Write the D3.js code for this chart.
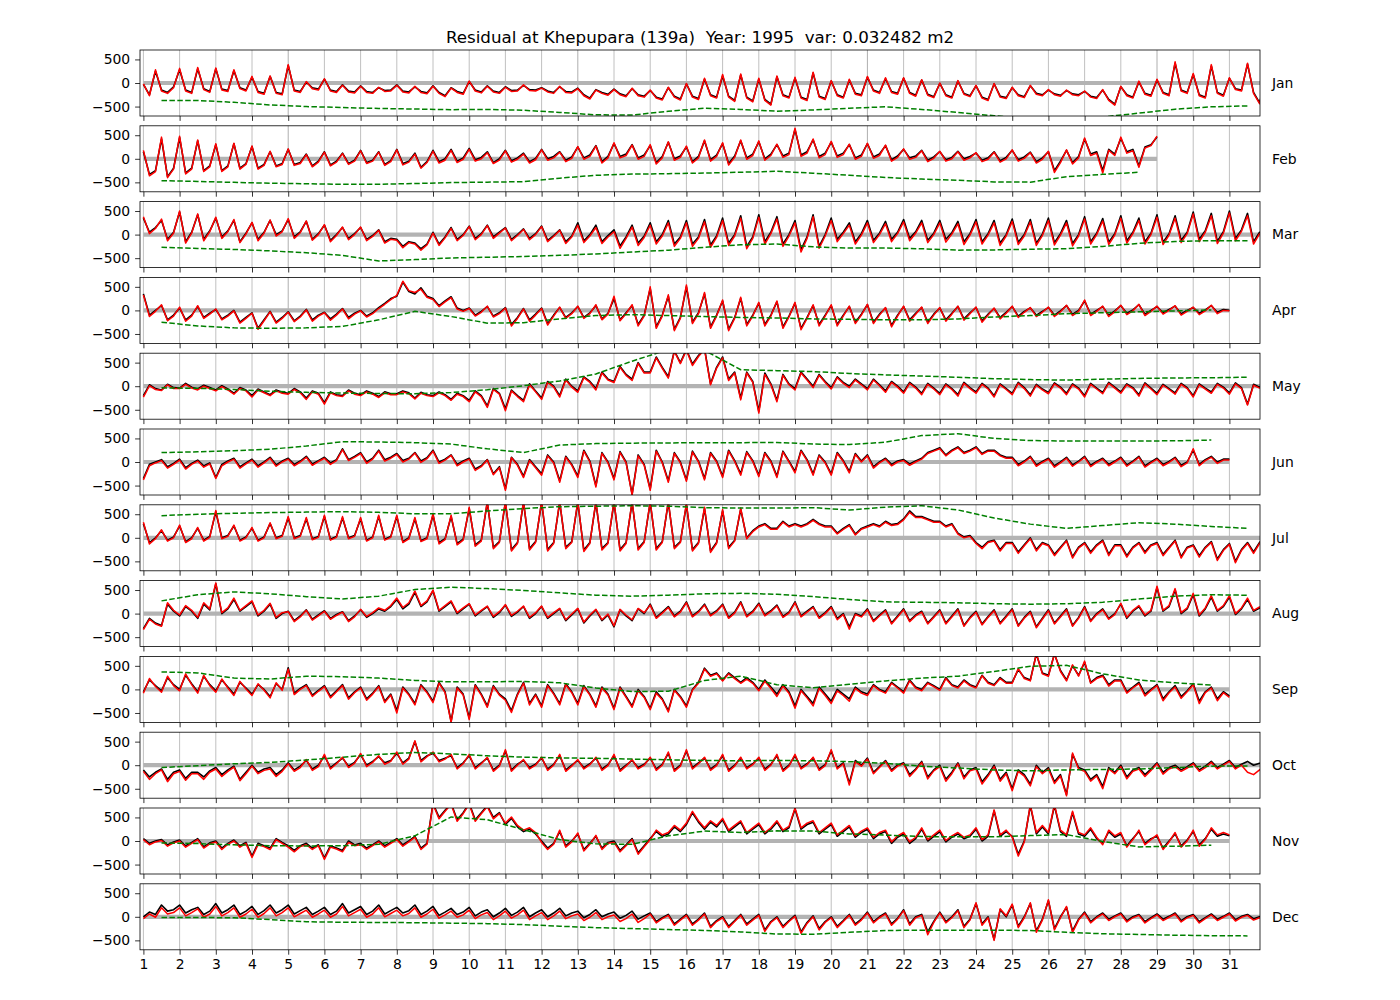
<!DOCTYPE html>
<html><head><meta charset="utf-8">
<script src="https://cdn.jsdelivr.net/npm/d3@7"></script>
<style>body{margin:0;background:#fff} text{font-family:"DejaVu Sans",sans-serif}</style>
</head><body><svg id="c" width="1400" height="1000"></svg>
<script>
const monthNames = ["Jan","Feb","Mar","Apr","May","Jun","Jul","Aug","Sep","Oct","Nov","Dec"];
const monthDays = [31,28,31,30,31,30,31,31,30,31,30,31];
const dayTicks = d3.range(1, 32);
const valueTicks = [-500, 0, 500];
const titleText = "Residual at Khepupara (139a)  Year: 1995  var: 0.032482 m2";
const samplesPerDay = 6;

// black = observed residual, red = modelled residual (6 samples per day + end value), green = daily mean (one per day)
const obsJan = [-30,-250,250,-150,-200,-80, 280,-150,-200,300,-120,-180, 300,-130,-160,260,-100,-150, 120,-180,-220,140,-200,-230,
 370,-150,-180,20,-100,-130, 80,-150,-180,-40,-170,-190, -60,-180,-200,-100,-160,-150, -40,-170,-190,-80,-180,-210,
 -60,-200,-270,-100,-180,-220, 30,-150,-190,-60,-170,-200, -80,-160,-150,-50,-140,-150, -100,-170,-200,-80,-180,-190,
 -110,-250,-320,-140,-200,-240, -130,-230,-270,-120,-250,-280, -160,-300,-340,-100,-280,-340, -20,-280,-330,80,-250,-300,
 150,-280,-370,170,-300,-380, 80,-350,-450,130,-250,-300, 100,-300,-350,210,-280,-330, 40,-250,-300,60,-220,-250,
 120,-150,-200,90,-180,-220, 100,-200,-260,60,-240,-290, -10,-250,-300,40,-220,-270, -60,-300,-350,-20,-280,-310,
 -100,-250,-290,-60,-220,-250, -150,-230,-260,-160,-230,-250, -180,-280,-310,-150,-350,-450, -80,-250,-300,20,-220,-260,
 60,-200,-250,420,-150,-200, 180,-250,-300,360,-200,-260, 100,-120,-150,400,-200,-420, 60];
const fitJan = [-20,-270,280,-170,-220,-100, 310,-170,-220,330,-140,-200, 320,-150,-180,280,-120,-170, 140,-200,-240,150,-220,-250,
 390,-170,-200,30,-120,-150, 90,-170,-200,-50,-190,-210, -70,-200,-220,-90,-180,-170, -50,-190,-210,-70,-200,-230,
 -70,-220,-290,-110,-200,-240, 40,-170,-210,-70,-190,-220, -90,-180,-170,-40,-160,-170, -110,-190,-220,-70,-200,-210,
 -120,-270,-340,-150,-220,-260, -140,-250,-290,-110,-270,-300, -150,-320,-360,-90,-300,-360, -10,-300,-350,100,-270,-320,
 180,-300,-390,190,-320,-400, 100,-370,-470,150,-270,-320, 120,-320,-370,230,-300,-350, 50,-270,-320,80,-240,-270,
 140,-170,-220,110,-200,-240, 110,-220,-280,70,-260,-310, 0,-270,-320,50,-240,-290, -50,-320,-370,-10,-300,-330,
 -90,-270,-310,-50,-240,-270, -140,-250,-280,-150,-250,-270, -170,-300,-330,-140,-370,-470, -70,-270,-320,40,-240,-280,
 80,-220,-270,450,-170,-220, 200,-270,-320,390,-220,-280, 110,-140,-170,420,-220,-440, 70];
const meanJan = [-370,-372,-410,-465,-500,-520,-540,-552,-566,-560,-578,-625,-675,-680,-600,-535,-560,-598,-572,-535,-505,-560,-625,-695,-760,-770,-720,-640,-555,-505,-486];

const obsFeb = [150,-330,-250,420,-380,-200, 450,-300,-200,380,-250,-150, 300,-250,-150,320,-200,-100, 260,-200,-120,150,-150,-100,
 200,-120,-80,100,-150,-50, 150,-130,-50,120,-100,-30, 180,-80,-30,150,-120,-40, 200,-100,-50,120,-180,-60,
 180,-60,0,200,-50,20, 220,-20,30,150,-80,0, 180,-40,20,120,-60,10, 200,0,50,150,-30,40,
 250,20,80,280,-60,50, 320,50,100,300,20,80, 280,-80,50,350,0,60, 250,-60,50,380,-20,80,
 320,-100,60,380,20,100, 360,0,100,300,60,120, 620,80,150,400,50,120, 350,60,120,300,20,80,
 320,40,100,280,-20,60, 200,20,60,180,-30,40, 150,-20,30,160,0,50, 120,-30,20,150,-40,30,
 180,-20,40,140,-60,20, 150,-250,-50,180,-80,50, 420,100,150,-250,200,100, 430,150,200,-150,250,300, 460];
const fitFeb = [180,-360,-270,460,-400,-220, 480,-320,-220,400,-270,-170, 320,-270,-170,330,-220,-120, 270,-220,-140,160,-170,-120,
 210,-140,-100,90,-170,-70, 140,-150,-70,110,-120,-50, 170,-100,-50,140,-140,-60, 190,-130,-70,100,-200,-80,
 160,-90,-30,180,-80,-10, 200,-50,0,130,-100,-30, 170,-70,-10,100,-90,-20, 190,-30,20,140,-60,10,
 260,-10,50,270,-90,20, 340,20,70,290,-10,50, 300,-110,20,360,-30,30, 270,-90,20,400,-50,50,
 340,-130,30,400,-10,70, 380,-30,70,310,30,90, 650,50,120,420,20,90, 370,30,90,310,-10,50,
 330,10,70,290,-50,30, 210,-10,30,170,-60,10, 160,-50,0,150,-30,20, 130,-60,-10,140,-70,0,
 190,-50,10,130,-90,-10, 160,-290,-80,190,-110,20, 440,70,120,-300,180,70, 460,120,170,-180,230,280, 480];
const meanFeb = [-464,-480,-500,-518,-530,-540,-540,-525,-505,-495,-485,-410,-350,-325,-315,-302,-285,-265,-305,-350,-395,-430,-455,-490,-495,-380,-330,-286];

const obsMar = [350,50,150,300,-100,50, 480,-150,50,420,-100,80, 350,-50,80,300,-150,30, 250,-100,50,300,0,80,
 320,-50,60,280,-100,20, 200,-120,0,150,-80,20, 150,-100,-20,100,-150,-80, -100,-250,-150,-180,-300,-200,
 50,-200,-50,150,-100,0, 180,-80,20,200,-50,50, 150,-100,0,120,-80,20, 180,-120,-20,100,-150,-30,
 250,-130,0,200,-150,-20, 100,-240,-50,200,-180,-30, 250,-150,0,300,-200,-50, 300,-200,-50,320,-220,-30,
 350,-180,0,400,-250,-50, 420,-150,50,380,-200,0, 300,-320,-50,420,-250,0, 350,-100,50,250,-150,20,
 300,-120,30,280,-100,50, 320,-80,60,300,-120,30, 300,-100,40,280,-150,20, 320,-150,20,300,-180,0,
 330,-160,0,320,-180,10, 350,-170,20,300,-190,0, 380,-150,30,340,-160,20, 400,-130,50,350,-150,30,
 420,-160,20,400,-120,50, 480,-100,80,450,-140,60, 500,-80,100,450,-150,50, -100];
const fitMar = [380,20,130,330,-130,30, 500,-180,30,440,-130,60, 370,-80,60,320,-170,10, 260,-130,30,310,-30,60,
 340,-80,40,290,-120,0, 210,-150,-20,160,-110,0, 160,-130,-40,90,-180,-100, -120,-280,-170,-200,-330,-220,
 30,-230,-70,130,-130,-20, 170,-110,0,190,-80,30, 140,-130,-20,110,-110,0, 170,-150,-40,90,-190,-50,
 200,-170,-30,150,-190,-50, 60,-290,-80,160,-230,-60, 200,-200,-30,250,-250,-80, 250,-250,-80,270,-270,-60,
 300,-230,-30,350,-300,-80, 370,-200,20,330,-250,-30, 250,-370,-80,380,-290,-30, 300,-150,20,200,-200,-10,
 250,-170,0,230,-150,20, 270,-130,30,250,-170,0, 250,-160,10,230,-210,-10, 270,-200,-10,250,-230,-30,
 280,-210,-30,270,-230,-20, 300,-220,-10,250,-240,-30, 330,-200,0,290,-210,-10, 350,-180,20,300,-200,0,
 370,-210,-10,350,-170,20, 440,-150,50,400,-190,30, 460,-130,70,400,-200,20, -130];
const meanMar = [-270,-295,-315,-345,-385,-440,-560,-530,-495,-480,-465,-440,-410,-370,-330,-270,-215,-200,-260,-285,-285,-300,-330,-325,-310,-300,-250,-185,-145,-128,-128];

const obsApr = [350,-100,0,100,-200,-100, 50,-200,-100,80,-150,-60, 20,-180,-100,0,-250,-150, -50,-380,-200,-20,-250,-150,
 -30,-220,-120,20,-200,-100, -40,-180,-80,40,-150,-60, 0,-120,-50,60,150,250, 300,600,400,350,480,300,
 250,100,200,290,50,0, 50,-100,-20,80,-120,-50, 60,-300,-150,40,-200,-80, 50,-280,-100,60,-150,-50,
 80,-150,-50,100,-180,-60, 250,-200,-50,100,-300,-100, 460,-350,-100,300,-400,-150, 500,-250,-50,350,-350,-100,
 200,-400,-150,250,-300,-100, 150,-300,-100,180,-350,-120, 150,-380,-150,100,-300,-100, 100,-300,-100,80,-250,-80,
 120,-250,-80,50,-320,-100, 80,-200,-60,60,-250,-80, 50,-200,-60,80,-180,-50, 60,-220,-80,40,-150,-40,
 80,-120,-20,50,-100,-20, 60,-100,-10,100,-80,0, 200,-80,0,80,-100,-10, 100,-60,10,120,-80,0,
 80,-50,20,90,-70,0, 60,-60,10,100,-40,20, 0];
const fitApr = [330,-130,-20,120,-220,-120, 70,-230,-120,100,-170,-80, 30,-200,-120,-10,-270,-170, -60,-400,-220,-30,-270,-170,
 -40,-240,-140,10,-230,-120, -50,-210,-100,30,-180,-80, -10,-140,-70,40,130,230, 320,620,420,380,450,280,
 230,80,180,270,30,-20, 40,-120,-40,90,-140,-70, 50,-330,-170,30,-230,-100, 40,-310,-120,70,-170,-70,
 90,-170,-70,120,-200,-80, 300,-220,-70,120,-330,-120, 500,-380,-120,330,-430,-170, 540,-280,-70,380,-380,-120,
 220,-430,-170,280,-330,-120, 170,-330,-120,200,-380,-140, 170,-410,-170,120,-330,-120, 120,-330,-120,90,-280,-100,
 130,-280,-100,60,-350,-120, 90,-230,-80,70,-280,-100, 60,-230,-80,90,-210,-70, 70,-250,-100,50,-180,-60,
 90,-150,-40,60,-130,-40, 70,-130,-30,110,-110,-20, 220,-110,-20,90,-130,-30, 110,-90,-10,130,-110,-20,
 90,-80,0,100,-100,-20, 70,-90,-10,110,-70,0, -10];
const meanApr = [-250,-330,-370,-380,-370,-340,-200,-20,-130,-270,-260,-180,-110,-90,-110,-130,-150,-160,-180,-190,-200,-200,-180,-140,-110,-70,-50,-30,-10,10];

const obsMay = [-200,30,-50,-80,40,-30, -40,60,-20,-60,20,-30, -80,10,-60,-150,-30,-80, -200,-60,-120,-180,-80,-130,
 -150,-50,-120,-250,-100,-150, -350,-120,-180,-200,-80,-150, -180,-100,-150,-220,-120,-160, -160,-100,-140,-250,-130,-180,
 -200,-120,-180,-280,-150,-200, -300,-100,-200,-420,-50,-150, -480,-80,-200,-300,50,-100, -250,100,0,-200,150,0,
 -100,200,100,-50,300,150, 100,420,250,150,500,300, 300,620,400,200,750,500, 780,470,650,800,50,400,
 620,150,300,-250,300,100, -530,280,50,-300,250,50, -50,300,150,0,250,100, -30,200,80,0,150,50,
 -50,150,30,-100,100,0, -120,80,-20,-150,60,-40, -150,50,-50,-180,80,-30, -120,60,-40,-200,50,-50,
 -150,80,-30,-180,40,-60, -130,70,-20,-150,50,-40, -200,60,-40,-130,80,-20, -120,50,-30,-180,70,-40,
 -150,40,-50,-140,60,-30, -200,50,-40,-120,60,-20, -140,70,-30,-380,40,-20, 50];
const fitMay = [-230,10,-70,-90,30,-50, -50,40,-40,-80,0,-50, -100,-10,-80,-170,-50,-100, -230,-80,-140,-200,-100,-150,
 -170,-70,-140,-280,-120,-170, -380,-140,-200,-220,-100,-170, -200,-120,-170,-240,-140,-180, -180,-120,-160,-270,-150,-200,
 -220,-140,-200,-300,-170,-220, -330,-120,-220,-450,-70,-170, -520,-100,-220,-330,30,-120, -280,80,-20,-230,130,-20,
 -130,180,80,-80,280,130, 80,400,230,120,480,280, 280,600,380,170,740,480, 760,440,630,780,30,380,
 600,120,280,-290,280,80, -570,250,30,-330,230,30, -80,280,130,-30,230,80, -60,180,60,-30,130,30,
 -80,130,10,-130,80,-20, -150,60,-40,-180,40,-60, -180,30,-70,-210,60,-50, -150,40,-60,-230,30,-70,
 -180,60,-50,-210,20,-80, -160,50,-40,-180,30,-60, -230,40,-60,-160,60,-40, -150,30,-50,-210,50,-60,
 -180,20,-70,-170,40,-50, -230,30,-60,-150,40,-40, -170,50,-50,-400,20,-40, 30];
const meanMay = [-35,-45,-70,-105,-130,-145,-155,-160,-135,-75,10,110,260,530,780,760,350,330,310,270,240,215,190,160,140,130,150,165,175,180,190];

const obsJun = [-350,-50,0,50,-100,-30, 60,-120,-30,40,-80,-20, -330,-50,20,80,-100,-20, 60,-80,0,100,-60,20,
 80,-50,20,120,-40,30, 100,-20,50,280,50,120, 200,0,80,250,50,100, 180,30,80,200,20,90,
 250,0,60,150,-50,20, 80,-150,-80,50,-250,-100, -570,100,-50,-300,50,-100, -250,150,0,-400,120,-50,
 -300,250,20,-500,200,0, -350,220,0,-680,150,-50, -570,250,0,-400,200,0, -380,230,20,-350,200,20,
 -300,250,30,-250,220,30, -280,200,20,-300,230,20, -200,250,50,-250,150,0, -250,200,30,-200,180,20,
 150,-100,0,80,-50,20, 50,-40,20,80,200,250, 300,150,250,320,200,250, 320,180,250,250,150,100,
 100,-50,20,120,-60,10, 80,-80,0,100,-60,20, 120,-70,10,80,-50,20, 100,-60,20,120,-80,0,
 80,-50,10,100,-70,0, 250,-50,50,120,0,60, 60];
const fitJun = [-380,-80,-20,30,-130,-50, 40,-150,-50,20,-110,-40, -350,-80,0,60,-130,-40, 40,-110,-20,80,-90,0,
 60,-80,0,100,-70,10, 80,-50,30,260,30,100, 180,-30,60,230,20,80, 160,0,60,190,-10,70,
 230,-30,40,140,-80,0, 60,-180,-100,40,-270,-120, -600,90,-70,-330,30,-120, -280,130,-20,-430,100,-70,
 -330,230,0,-530,180,-20, -380,200,-20,-700,130,-70, -600,230,-20,-430,180,-20, -410,210,0,-380,180,0,
 -330,230,10,-280,200,10, -310,180,0,-330,210,0, -230,230,30,-280,130,-20, -280,180,10,-230,160,0,
 130,-130,-20,60,-80,0, 30,-70,0,60,180,230, 280,130,230,300,180,230, 300,160,230,230,130,80,
 80,-80,0,100,-90,-10, 60,-110,-20,80,-90,0, 100,-100,-10,60,-80,0, 80,-90,0,100,-110,-20,
 60,-80,-10,80,-100,-20, 280,-80,30,100,-30,40, 40];
const meanJun = [200,215,240,270,340,430,425,410,380,280,200,360,390,400,405,410,410,415,380,370,420,560,600,500,455,445,445,445,450,465];

const obsJul = [300,-100,0,150,-50,20, 250,-80,0,200,-50,30, 550,0,50,250,-50,20, 200,-50,20,300,0,50,
 420,0,50,400,-20,30, 450,-30,30,420,0,50, 400,-50,20,450,-30,30, 450,-80,0,400,-60,0,
 480,-100,-20,450,-120,-30, 620,-150,-50,750,-200,-80, 750,-250,-100,750,-230,-80, 750,-250,-100,750,-200,-80,
 750,-260,-100,750,-230,-100, 750,-250,-100,750,-230,-80, 750,-230,-80,750,-200,-80, 700,-250,-100,620,-280,-100,
 570,-200,-50,600,0,150, 250,300,200,200,350,250, 300,250,300,390,300,250, 250,100,200,280,80,200,
 250,300,250,350,280,300, 400,570,450,450,400,350, 350,250,300,100,20,50, -100,-200,-80,-50,-250,-100,
 -100,-300,-150,0,-250,-100, -150,-350,-200,-50,-400,-200, -100,-300,-150,-50,-350,-150, -150,-380,-200,-100,-300,-150,
 -100,-350,-200,-50,-400,-200, -150,-380,-200,-80,-450,-250, -120,-500,-250,-100,-300,-100, 50];
const fitJul = [330,-130,-20,170,-70,0, 270,-100,-20,220,-70,10, 580,-20,30,270,-70,0, 220,-70,0,320,-20,30,
 450,-20,30,430,-40,10, 480,-50,10,450,-20,30, 430,-70,0,480,-50,10, 480,-100,-20,430,-80,-20,
 510,-130,-40,480,-150,-50, 650,-180,-70,780,-230,-100, 780,-280,-120,780,-260,-100, 780,-280,-120,780,-230,-100,
 780,-290,-120,780,-260,-120, 780,-280,-120,780,-260,-100, 780,-260,-100,780,-230,-100, 730,-280,-120,650,-310,-120,
 600,-230,-70,630,-20,130, 230,280,180,180,330,230, 280,230,280,370,280,230, 230,80,180,260,60,180,
 230,280,230,330,260,280, 380,540,430,430,380,330, 330,230,280,80,0,30, -120,-230,-100,-70,-280,-120,
 -120,-330,-170,-20,-280,-120, -170,-380,-220,-70,-430,-220, -120,-330,-170,-70,-380,-170, -170,-410,-220,-120,-330,-170,
 -120,-380,-220,-70,-430,-220, -170,-410,-220,-100,-480,-270, -140,-530,-270,-120,-330,-120, 30];
const meanJul = [470,500,520,535,545,555,540,510,510,570,620,660,670,680,670,640,630,630,640,590,650,680,590,420,290,200,260,320,290,240,200];

const obsAug = [-320,-100,-200,-250,200,50, -50,150,50,-100,200,80, 630,0,100,300,50,150, 250,-50,50,200,-100,0,
 50,-150,-50,80,-120,-30, 60,-100,-20,40,-150,-50, 80,-80,0,100,50,150, 300,100,200,450,150,250,
 480,50,150,250,0,100, 200,-50,50,150,-80,20, 180,-60,30,150,-100,0, 150,-100,0,100,-150,-30,
 100,-200,-50,80,-150,-30, -280,80,-50,-150,100,0, 200,-80,30,150,-50,50, 250,-50,50,200,-30,60,
 200,-80,30,250,-50,50, 220,-30,60,180,-60,30, 250,-50,50,150,-80,20, 150,-100,0,-280,0,-50,
 100,-150,-30,80,-200,-50, 100,-150,-30,50,-200,-60, 80,-200,-50,100,-250,-80, 50,-220,-60,80,-200,-50,
 100,-250,-80,50,-280,-100, 80,-200,-50,100,-250,-80, 150,-150,0,100,-100,0, 200,-100,50,150,-50,50,
 550,50,150,500,0,100, 400,-50,100,350,50,150, 350,-20,100,300,50,120, 150];
const fitAug = [-340,-120,-220,-270,230,70, -30,170,70,-80,230,100, 650,20,120,330,70,170, 270,-30,70,220,-80,20,
 40,-170,-70,70,-140,-50, 50,-120,-40,30,-170,-70, 90,-60,20,120,70,170, 330,130,230,480,170,270,
 500,70,170,270,20,120, 210,-30,70,160,-60,40, 190,-40,50,160,-80,20, 160,-80,20,110,-130,-10,
 110,-180,-30,90,-130,-10, -260,90,-30,-130,110,20, 180,-100,10,130,-70,30, 230,-70,30,180,-50,40,
 180,-100,10,230,-70,30, 200,-50,40,160,-80,10, 230,-70,30,130,-100,0, 130,-130,-20,-330,-20,-70,
 80,-170,-50,60,-220,-70, 80,-170,-50,30,-220,-80, 60,-220,-70,80,-270,-100, 30,-240,-80,60,-220,-70,
 80,-270,-100,30,-300,-120, 60,-220,-70,80,-270,-100, 130,-170,-20,80,-120,-20, 220,-80,70,170,-30,70,
 580,70,170,530,20,120, 430,-30,120,380,70,170, 380,0,120,330,70,140, 170];
const meanAug = [270,400,460,420,360,310,370,510,560,530,490,440,390,370,390,420,430,410,360,300,250,240,230,210,200,210,240,310,370,400,390];

const obsSep = [-50,200,80,-30,250,100, 0,300,120,-50,280,100, -30,200,50,-100,150,30, -100,100,0,-150,120,0,
 460,-80,20,100,-120,-20, 80,-150,-30,100,-180,-50, 50,-200,-80,80,-250,-100, -450,50,-100,-300,100,-50,
 -250,150,-50,-680,50,-100, -600,100,-100,-350,80,-100, -200,-450,-100,150,-300,-100, -350,100,-80,-300,120,-50,
 -300,80,-100,-350,50,-100, -400,50,-150,-350,0,-150, -400,-50,-200,-450,0,-150, -350,0,150,450,300,350,
 200,350,250,150,250,150, 0,200,50,-100,100,-50, -350,0,-150,-300,50,-100, -250,0,-100,-200,50,-50,
 -100,100,0,-50,150,50, -50,200,50,0,150,80, 0,250,100,50,200,100, 50,300,150,100,250,150,
 150,420,250,200,750,350, 300,750,400,200,500,300, 570,150,250,300,100,200, 200,-50,50,150,-100,0,
 100,-200,-50,80,-150,-30, 120,-250,-50,50,-200,-50, -140];
const fitSep = [-80,230,60,-60,280,80, -30,330,100,-80,300,80, -60,220,30,-130,170,10, -130,120,-20,-180,140,-20,
 430,-110,0,80,-150,-40, 60,-180,-50,80,-210,-70, 30,-230,-100,60,-280,-120, -500,30,-120,-330,80,-70,
 -280,130,-70,-700,30,-120, -640,80,-120,-380,60,-120, -230,-490,-120,130,-330,-120, -380,80,-100,-330,100,-70,
 -330,60,-120,-380,30,-120, -430,30,-170,-380,-30,-170, -430,-80,-220,-480,-20,-170, -380,-20,130,430,280,330,
 180,330,230,130,220,130, -30,170,20,-150,70,-80, -400,-30,-180,-350,20,-130, -300,-30,-130,-250,20,-80,
 -130,80,-20,-80,130,30, -80,180,30,-30,130,60, -20,230,80,30,180,80, 30,290,130,80,230,130,
 130,440,230,180,760,330, 280,760,380,180,520,280, 600,130,230,280,70,180, 180,-80,30,120,-140,-20,
 80,-240,-70,50,-190,-50, 100,-300,-70,30,-240,-70, -170];
const meanSep = [370,350,240,220,280,270,240,190,160,160,170,140,30,-45,-40,190,280,100,35,110,180,240,280,380,490,510,330,200,140,90];

const obsOct = [-100,-250,-150,-80,-300,-150, -100,-280,-150,-150,-250,-120, -50,-200,-100,-20,-300,-150, 0,-150,-80,-50,-200,-100,
 50,-100,-20,100,-80,0, 200,-50,50,150,-20,60, 220,0,80,180,50,100, 250,50,150,500,100,200,
 250,100,150,200,-50,50, 200,-50,50,150,-100,0, 300,-100,20,100,-50,20, 150,-80,20,200,-100,0,
 100,-50,30,150,-80,10, 200,-100,0,100,-50,20, 150,-80,20,250,-100,0, 300,-50,50,150,-80,10,
 200,-100,0,150,-50,30, 150,-80,20,200,-100,0, 200,-50,30,150,-80,10, 300,-50,50,-380,100,0,
 150,-150,-30,100,-100,0, 50,-200,-80,80,-250,-100, 0,-300,-150,50,-250,-100, -50,-350,-200,0,-300,-150,
 -500,-100,-200,-400,0,-150, -50,-350,-200,-620,230,-50, -100,-300,-200,-450,-50,-150, 0,-250,-100,-50,-200,-80,
 50,-150,-50,0,-100,-30, 50,-100,-20,80,-50,20, 100,-50,20,80,0,40, 60];
const fitOct = [-130,-300,-180,-100,-350,-180, -130,-320,-180,-180,-300,-150, -80,-240,-130,-40,-330,-180, -20,-180,-110,-80,-240,-130,
 30,-130,-50,120,-110,-30, 230,-80,30,170,-50,40, 250,-30,60,200,20,80, 280,20,130,520,70,180,
 280,70,130,230,-80,30, 230,-80,30,170,-130,-20, 330,-130,0,120,-80,0, 170,-110,0,230,-130,-20,
 120,-80,10,170,-110,-10, 230,-130,-20,120,-80,0, 170,-110,0,280,-130,-20, 330,-80,30,170,-110,-10,
 230,-130,-20,170,-80,10, 170,-110,0,230,-130,-20, 230,-80,10,170,-110,-10, 330,-80,30,-420,70,-20,
 130,-180,-50,80,-130,-20, 30,-240,-100,60,-290,-120, -30,-340,-180,30,-290,-120, -80,-400,-230,-30,-340,-180,
 -540,-130,-230,-440,-30,-180, -80,-390,-230,-650,260,-80, -130,-340,-230,-500,-80,-180, -30,-290,-130,-80,-240,-110,
 30,-190,-80,-30,-130,-60, 30,-130,-50,60,-80,0, 80,-80,0,-150,-200,-100, 30];
const meanOct = [-50,-10,30,60,110,170,230,270,240,200,170,155,145,130,115,100,95,100,95,75,40,-20,-60,-100,-120,-100,-90,-80,-50,-20,-15];

const obsNov = [50,-50,0,30,-80,-20, 20,-100,-30,50,-120,-40, 0,-150,-50,20,-100,-30, -320,-50,-100,-150,50,-30,
 -100,-200,-100,-50,-150,-80, -360,-100,-150,-200,0,-80, -50,-150,-80,0,-100,-30, 50,-80,0,100,-150,-50,
 800,500,650,800,450,600, 800,450,600,750,500,600, 350,480,300,200,250,150, 0,-150,-50,200,-100,0,
 150,-180,-50,100,-150,-30, 0,-200,-80,50,-250,-100, 50,200,100,150,300,200, 350,600,400,250,400,300,
 450,200,300,400,150,250, 350,150,250,400,200,280, 680,250,350,400,150,250, 350,100,200,300,80,180,
 250,50,150,200,-50,80, 150,-50,50,250,0,100, 200,-20,80,150,50,100, 250,0,100,640,100,200,
 100,-280,0,750,150,300, 150,750,200,100,600,150, 100,250,50,-50,200,80, 150,-100,50,200,-50,50,
 100,-150,0,150,-100,20, 200,-80,50,250,100,150, 110];
const fitNov = [30,-80,-20,10,-110,-40, 0,-130,-50,30,-150,-60, -20,-180,-70,0,-130,-50, -350,-80,-120,-180,30,-50,
 -130,-230,-120,-80,-180,-100, -390,-130,-170,-230,-30,-100, -80,-180,-100,-20,-130,-50, 30,-110,-20,80,-180,-70,
 780,470,630,780,420,580, 780,420,580,730,470,580, 380,510,330,230,280,180, -30,-180,-70,230,-130,-20,
 170,-210,-70,120,-180,-50, -30,-230,-100,30,-280,-120, 30,230,130,180,330,230, 380,630,430,280,430,330,
 480,230,330,430,180,280, 380,180,280,430,230,310, 700,280,380,430,180,280, 380,130,230,330,110,210,
 280,80,180,230,-20,110, 180,-20,80,280,30,130, 230,10,110,180,80,130, 280,30,130,660,130,230,
 80,-320,-20,770,180,330, 180,770,230,130,630,180, 130,280,80,-80,230,110, 180,-130,30,230,-80,30,
 130,-180,-20,180,-130,0, 230,-110,30,280,130,180, 130];
const meanNov = [-40,-55,-80,-100,-105,-100,-70,110,510,450,240,30,-60,-70,110,210,180,215,210,150,125,95,88,90,115,135,-10,-125,-110,-90];

const obsDec = [0,100,50,250,120,150, 250,80,150,200,50,120, 280,80,150,250,50,120, 220,50,130,250,80,150,
 250,60,130,200,50,120, 200,50,120,280,80,150, 220,50,120,250,60,130, 200,80,130,250,50,120,
 220,30,100,180,50,100, 200,20,100,150,0,80, 180,30,100,200,0,80, 150,0,80,180,20,80,
 120,-20,50,150,0,60, 100,-30,30,120,-50,20, 80,-100,-20,50,-150,-50, 50,-150,-50,80,-200,-80,
 0,-200,-80,50,-150,-50, 50,-280,-100,0,-200,-80, 30,-320,-120,20,-250,-100, 0,-200,-80,50,-150,-50,
 100,-100,0,80,-150,-30, 150,-150,0,50,-320,-100, 100,-100,0,150,-200,-50, 280,-150,0,-480,150,0,
 250,-200,0,280,-300,-50, 340,-250,0,200,-300,-50, 100,-100,0,80,-50,20, 80,-80,0,50,-100,-20,
 60,-50,10,80,-80,0, 50,-100,-20,60,-50,10, 80,-60,10,50,-40,0, 0];
const fitDec = [-40,60,-10,190,60,90, 190,20,90,170,-10,60, 220,20,90,190,-10,60, 160,-10,70,190,20,90,
 190,0,70,140,-10,60, 140,-10,60,220,20,90, 160,-10,60,190,0,70, 140,20,70,190,-10,60,
 160,-30,40,120,-10,40, 140,-40,40,90,-60,20, 120,-30,40,140,-60,20, 90,-60,20,120,-40,20,
 60,-80,-10,90,-60,0, 40,-100,-40,60,-120,-40, 60,-130,-40,30,-180,-70, 30,-180,-70,60,-230,-100,
 -20,-230,-100,30,-180,-70, 30,-310,-120,-20,-230,-100, 10,-350,-140,0,-280,-120, -20,-230,-100,30,-180,-70,
 80,-130,-20,60,-180,-50, 130,-180,-20,30,-380,-120, 80,-130,-20,130,-230,-70, 300,-180,-20,-500,170,20,
 270,-230,-20,300,-330,-70, 360,-280,-20,220,-330,-70, 80,-130,-20,60,-80,0, 60,-110,-20,30,-130,-40,
 40,-80,-10,60,-110,-20, 30,-130,-40,40,-80,-10, 60,-90,-10,30,-70,-20, -20];
const meanDec = [-15,-15,-20,-60,-105,-115,-120,-125,-135,-145,-165,-200,-230,-250,-270,-290,-320,-365,-370,-330,-290,-285,-285,-285,-290,-330,-360,-375,-390,-400,-405];

const obsAll = [obsJan,obsFeb,obsMar,obsApr,obsMay,obsJun,obsJul,obsAug,obsSep,obsOct,obsNov,obsDec];
const fitAll = [fitJan,fitFeb,fitMar,fitApr,fitMay,fitJun,fitJul,fitAug,fitSep,fitOct,fitNov,fitDec];
const meanAll = [meanJan,meanFeb,meanMar,meanApr,meanMay,meanJun,meanJul,meanAug,meanSep,meanOct,meanNov,meanDec];

const W = 1400, H = 1000;
const left = 140, right = 1260, top0 = 50, pitch = 75.8, ph = 66;
const fs = "13.9px";
const svg = d3.select("#c");
svg.append("rect").attr("width", W).attr("height", H).attr("fill", "#fff");
const defs = svg.append("defs");
const x = d3.scaleLinear().domain([0.906, 31.845]).range([left, right]);

svg.append("text").attr("x", 700).attr("y", 43).attr("text-anchor", "middle")
  .attr("xml:space", "preserve").style("white-space", "pre")
  .style("font-size", "16.7px").attr("fill", "#000").text(titleText);

monthNames.forEach((name, i) => {
  const top = top0 + i * pitch;
  const y = d3.scaleLinear().domain([-700, 700]).range([top + ph, top]);
  const n = monthDays[i];
  const g = svg.append("g");
  const cid = "clip" + i;
  defs.append("clipPath").attr("id", cid).append("rect")
    .attr("x", left).attr("y", top).attr("width", right - left).attr("height", ph);

  g.append("g").selectAll("line").data(dayTicks).join("line")
    .attr("x1", d => x(d)).attr("x2", d => x(d))
    .attr("y1", top).attr("y2", top + ph)
    .attr("stroke", d => ([5,13,21,29].includes(d) ? "#9a9a9a" : "#b0b0b0"))
    .attr("stroke-width", 0.8);

  const plot = g.append("g").attr("clip-path", `url(#${cid})`);
  plot.append("line").attr("x1", x(1)).attr("x2", x(n + 1))
    .attr("y1", y(0)).attr("y2", y(0))
    .attr("stroke", "#b3b3b3").attr("stroke-width", 4.2);

  const line = d3.line().x(d => x(d.t)).y(d => y(d.v));
  const toPts = arr => arr.map((v, k) => ({ t: 1 + k / samplesPerDay, v }));
  plot.append("path").datum(toPts(obsAll[i])).attr("d", line)
    .attr("fill", "none").attr("stroke", "#000").attr("stroke-width", 1.6).attr("stroke-linejoin", "round");
  plot.append("path").datum(toPts(fitAll[i])).attr("d", line)
    .attr("fill", "none").attr("stroke", "#ff0000").attr("stroke-width", 1.5).attr("stroke-linejoin", "round");
  plot.append("path").datum(meanAll[i].map((v, k) => ({ t: k + 1.5, v }))).attr("d", line)
    .attr("fill", "none").attr("stroke", "#008000").attr("stroke-width", 1.5)
    .attr("stroke-dasharray", "5.5,2.4");

  g.append("rect").attr("x", left).attr("y", top).attr("width", right - left).attr("height", ph)
    .attr("fill", "none").attr("stroke", "#000").attr("stroke-width", 0.8);

  const ya = g.append("g").attr("transform", `translate(${left},0)`)
    .call(d3.axisLeft(y).tickValues(valueTicks).tickSize(4.9).tickPadding(4.9));
  ya.select(".domain").remove();
  ya.selectAll("text").style("font-size", fs).attr("fill", "#000").style("font-family", "DejaVu Sans");
  ya.selectAll("line").attr("stroke-width", 0.8);

  const xa = g.append("g").attr("transform", `translate(0,${top + ph})`)
    .call(d3.axisBottom(x).tickValues(dayTicks).tickSize(4.9).tickPadding(4.9)
      .tickFormat(i === 11 ? d3.format("d") : () => ""));
  xa.select(".domain").remove();
  xa.selectAll("text").style("font-size", fs).attr("fill", "#000").style("font-family", "DejaVu Sans");
  xa.selectAll("line").attr("stroke-width", 0.8);

  g.append("text").attr("x", 1272).attr("y", top + ph / 2).attr("dy", "0.35em")
    .style("font-size", fs).attr("fill", "#000").text(name);
});
</script></body></html>
